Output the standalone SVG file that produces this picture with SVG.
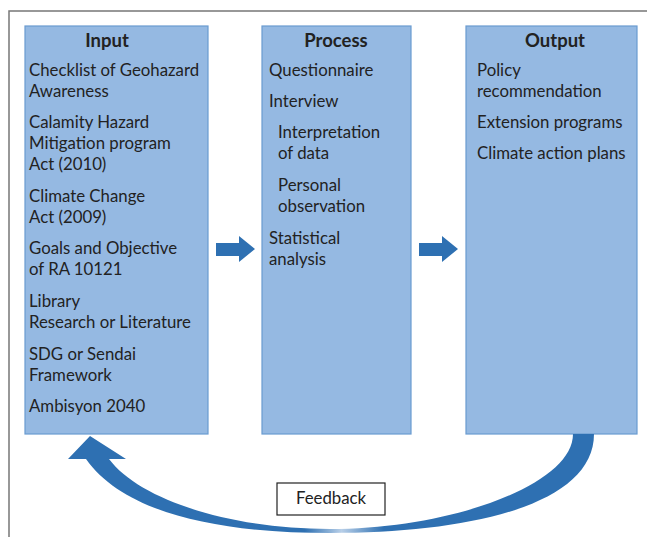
<svg xmlns="http://www.w3.org/2000/svg" width="647" height="537" viewBox="0 0 647 537">
<style>
.box{fill:#95b9e2;stroke:#6a9bd0;stroke-width:1.2}
.t{font-family:Lato,"Liberation Sans",sans-serif;font-size:16.8px;fill:#222}
.h{font-family:Lato,"Liberation Sans",sans-serif;font-size:18.5px;font-weight:bold;fill:#222;text-anchor:middle}
.frame{fill:none;stroke:#777;stroke-width:1.5}
.arr{fill:#2e70b2}
</style>
<defs>
<linearGradient id="g" x1="0" y1="0" x2="1" y2="0">
<stop offset="0" stop-color="#2e70b2"/>
<stop offset="0.45" stop-color="#2e70b2"/>
<stop offset="0.52" stop-color="#b8cfe8"/>
<stop offset="0.6" stop-color="#2e70b2"/>
<stop offset="1" stop-color="#2e70b2"/>
</linearGradient>
</defs>
<path class="frame" d="M9,537 V11 H647"/>
<g id="input">
<rect class="box" x="25" y="26" width="183" height="408"/>
<text class="h" x="107" y="47">Input</text>
<text class="t" x="29" y="76">Checklist of Geohazard</text>
<text class="t" x="29" y="97">Awareness</text>
<text class="t" x="29" y="128">Calamity Hazard</text>
<text class="t" x="29" y="149">Mitigation program</text>
<text class="t" x="29" y="170">Act (2010)</text>
<text class="t" x="29" y="202">Climate Change</text>
<text class="t" x="29" y="223">Act (2009)</text>
<text class="t" x="29" y="254">Goals and Objective</text>
<text class="t" x="29" y="275">of RA 10121</text>
<text class="t" x="29" y="307">Library</text>
<text class="t" x="29" y="328">Research or Literature</text>
<text class="t" x="29" y="360">SDG or Sendai</text>
<text class="t" x="29" y="381">Framework</text>
<text class="t" x="29" y="412">Ambisyon 2040</text>
</g>
<g id="process">
<rect class="box" x="262" y="26" width="149" height="408"/>
<text class="h" x="336" y="47">Process</text>
<text class="t" x="269" y="76">Questionnaire</text>
<text class="t" x="269" y="107">Interview</text>
<text class="t" x="278" y="138">Interpretation</text>
<text class="t" x="278" y="159">of data</text>
<text class="t" x="278" y="191">Personal</text>
<text class="t" x="278" y="212">observation</text>
<text class="t" x="269" y="244">Statistical</text>
<text class="t" x="269" y="265">analysis</text>
</g>
<g id="output">
<rect class="box" x="466" y="26" width="171" height="408"/>
<text class="h" x="555" y="47">Output</text>
<text class="t" x="477" y="76">Policy</text>
<text class="t" x="477" y="97">recommendation</text>
<text class="t" x="477" y="128">Extension programs</text>
<text class="t" x="477" y="159">Climate action plans</text>
</g>
<g id="feedback">
<rect x="277" y="483" width="108" height="32" fill="#fff" stroke="#222" stroke-width="1.2"/>
<text class="t" x="331" y="504" text-anchor="middle">Feedback</text>
</g>
<g id="connectors">
<path class="arr" d="M216,243 H239 V236 L255,249 L239,262 V256 H216 Z"/>
<path class="arr" d="M419,243 H442 V236 L458,249 L442,262 V256 H419 Z"/>
<path fill="url(#g)" d="M594,434 C594,505 470,533 330,533 C220,533 125,514 86,459 L68,459 L90,436 L126,459 L109,459 C140,500 230,529 330,529 C450,529 573,485 573,434 Z"/>
</g>
</svg>
